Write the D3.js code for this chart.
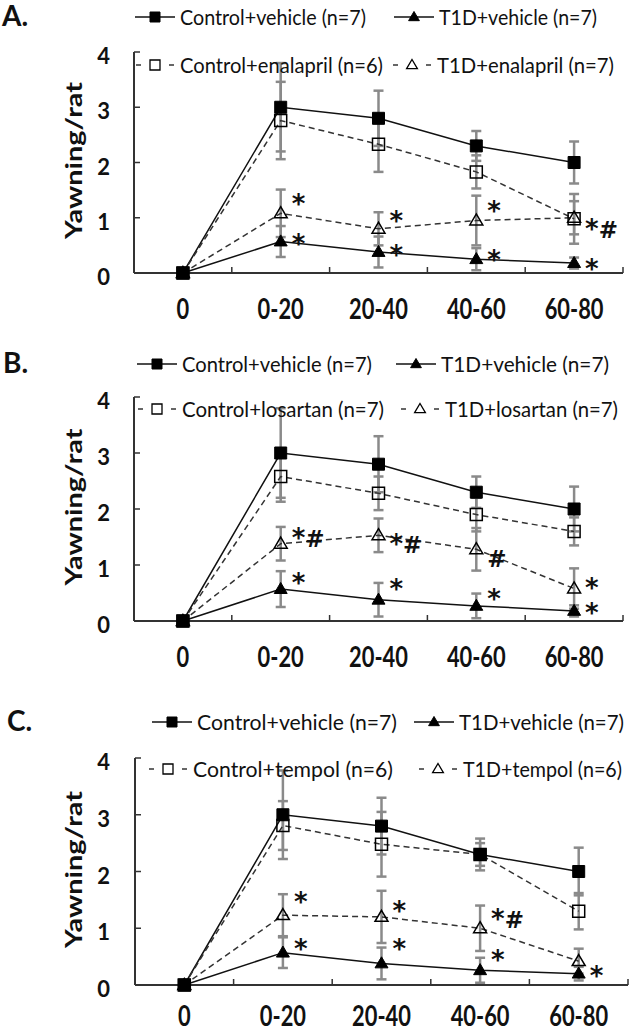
<!DOCTYPE html>
<html>
<head>
<meta charset="utf-8">
<script src="https://cdn.jsdelivr.net/npm/d3@7"></script>
<style>
  html, body { margin: 0; padding: 0; background: #fff; }
  svg { display: block; }
  text { font-family: Lato, "Open Sans", sans-serif; fill: #111; }
</style>
</head>
<body>
<svg id="chart" width="631" height="1031"></svg>
<script>
// ---------------- DATA ----------------
const categories = ["0", "0-20", "20-40", "40-60", "60-80"];
const yTicks = [0, 1, 2, 3, 4];

// Panel A (enalapril)
const A_controlVehicle    = [0, 3.0, 2.8, 2.3, 2.0];
const A_controlVehicleErr = [0, 0.8, 0.5, 0.27, 0.38];
const A_t1dVehicle        = [0, 0.57, 0.38, 0.25, 0.18];
const A_t1dVehicleErr     = [0, 0.28, 0.28, 0.2, 0.1];
const A_controlDrug       = [0, 2.76, 2.33, 1.83, 0.98];
const A_controlDrugErr    = [0, 0.7, 0.5, 0.3, 0.45];
const A_t1dDrug           = [0, 1.08, 0.8, 0.95, 1.0];
const A_t1dDrugErr        = [0, 0.43, 0.3, 0.45, 0.3];
const A_legend = ["Control+vehicle (n=7)", "T1D+vehicle (n=7)", "Control+enalapril (n=6)", "T1D+enalapril (n=7)"];
const A_sig = [[1, 1.38, "*"], [1, 0.66, "*"], [2, 1.07, "*"], [2, 0.45, "*"], [3, 1.25, "*"], [3, 0.36, "*"], [4, 0.93, "*#"], [4, 0.2, "*"]];

// Panel B (losartan)
const B_controlVehicle    = [0, 3.0, 2.8, 2.3, 2.0];
const B_controlVehicleErr = [0, 0.8, 0.5, 0.28, 0.4];
const B_t1dVehicle        = [0, 0.57, 0.38, 0.27, 0.18];
const B_t1dVehicleErr     = [0, 0.32, 0.3, 0.22, 0.1];
const B_controlDrug       = [0, 2.58, 2.28, 1.9, 1.6];
const B_controlDrugErr    = [0, 0.45, 0.3, 0.3, 0.25];
const B_t1dDrug           = [0, 1.38, 1.53, 1.28, 0.58];
const B_t1dDrugErr        = [0, 0.3, 0.3, 0.38, 0.36];
const B_legend = ["Control+vehicle (n=7)", "T1D+vehicle (n=7)", "Control+losartan (n=7)", "T1D+losartan (n=7)"];
const B_sig = [[1, 1.6, "*#"], [1, 0.8, "*"], [2, 1.5, "*#"], [2, 0.7, "*"], [3, 1.25, "#"], [3, 0.51, "*"], [4, 0.72, "*"], [4, 0.27, "*"]];

// Panel C (tempol)
const C_controlVehicle    = [0, 3.0, 2.8, 2.3, 2.0];
const C_controlVehicleErr = [0, 0.78, 0.5, 0.28, 0.42];
const C_t1dVehicle        = [0, 0.57, 0.38, 0.26, 0.2];
const C_t1dVehicleErr     = [0, 0.27, 0.28, 0.22, 0.12];
const C_controlDrug       = [0, 2.81, 2.48, 2.3, 1.3];
const C_controlDrugErr    = [0, 0.43, 0.57, 0.2, 0.32];
const C_t1dDrug           = [0, 1.23, 1.2, 1.0, 0.42];
const C_t1dDrugErr        = [0, 0.37, 0.46, 0.4, 0.22];
const C_legend = ["Control+vehicle (n=7)", "T1D+vehicle (n=7)", "Control+tempol (n=6)", "T1D+tempol (n=6)"];
const C_sig = [[1, 1.59, "*"], [1, 0.75, "*"], [2, 1.43, "*"], [2, 0.75, "*"], [3, 1.29, "*#"], [3, 0.56, "*"], [4, 0.29, "*"]];

const yTitle = "Yawning/rat";

// ---------------- LAYOUT ----------------
const panels = [
  { title: "A.", titleX: 2, top: 52, bottom: 273, x0: 134, x1: 623,
    row1: 17, row2: 65, items: [155, 414, 155, 412], widths: [186, 158, 203, 177],
    cv: A_controlVehicle, cvE: A_controlVehicleErr, tv: A_t1dVehicle, tvE: A_t1dVehicleErr,
    cd: A_controlDrug, cdE: A_controlDrugErr, td: A_t1dDrug, tdE: A_t1dDrugErr,
    legend: A_legend, sig: A_sig },
  { title: "B.", titleX: 3, top: 397, bottom: 621, x0: 134, x1: 623,
    row1: 364, row2: 409, items: [157, 416, 157, 420], widths: [190, 168, 202, 173],
    cv: B_controlVehicle, cvE: B_controlVehicleErr, tv: B_t1dVehicle, tvE: B_t1dVehicleErr,
    cd: B_controlDrug, cdE: B_controlDrugErr, td: B_t1dDrug, tdE: B_t1dDrugErr,
    legend: B_legend, sig: B_sig },
  { title: "C.", titleX: 7, top: 758, bottom: 985, x0: 135, x1: 628,
    row1: 722, row2: 769, items: [172, 434, 168, 438], widths: [200, 165, 200, 159],
    cv: C_controlVehicle, cvE: C_controlVehicleErr, tv: C_t1dVehicle, tvE: C_t1dVehicleErr,
    cd: C_controlDrug, cdE: C_controlDrugErr, td: C_t1dDrug, tdE: C_t1dDrugErr,
    legend: C_legend, sig: C_sig }
];

const svg = d3.select("#chart");
const ERR_COLOR = "#8a8a8a";
const AX_COLOR = "#333";

function markerPath(type, x, y, s) {
  if (type === "square") {
    const h = s / 2;
    return `M${x - h},${y - h}H${x + h}V${y + h}H${x - h}Z`;
  } else {
    const w = s * 1.08, hgt = s * 0.92;
    return `M${x},${y - hgt * 0.6}L${x + w / 2},${y + hgt * 0.4}L${x - w / 2},${y + hgt * 0.4}Z`;
  }
}

function squash(sel, f) {
  sel.each(function () {
    const L = this.getComputedTextLength();
    d3.select(this).attr("textLength", L * f).attr("lengthAdjust", "spacingAndGlyphs");
  });
}

panels.forEach(p => {
  const g = svg.append("g");
  const x = d3.scaleBand().domain(categories).range([p.x0, p.x1]).padding(0);
  const y = d3.scaleLinear().domain([0, 4]).range([p.bottom, p.top]);
  const cx = c => x(c) + x.bandwidth() / 2;

  const series = [
    { vals: p.cv, err: p.cvE, type: "square", filled: true, dashed: false },
    { vals: p.tv, err: p.tvE, type: "triangle", filled: true, dashed: false },
    { vals: p.cd, err: p.cdE, type: "square", filled: false, dashed: true },
    { vals: p.td, err: p.tdE, type: "triangle", filled: false, dashed: true }
  ];

  // axes
  const ax = g.append("g");
  ax.append("line").attr("x1", p.x0).attr("x2", p.x0).attr("y1", y(0)).attr("y2", y(4))
    .attr("stroke", AX_COLOR).attr("stroke-width", 2);
  ax.append("line").attr("x1", p.x0).attr("x2", p.x1).attr("y1", y(0)).attr("y2", y(0))
    .attr("stroke", AX_COLOR).attr("stroke-width", 2);
  yTicks.forEach(t => {
    ax.append("line").attr("x1", p.x0).attr("x2", p.x0 + 6).attr("y1", y(t)).attr("y2", y(t))
      .attr("stroke", AX_COLOR).attr("stroke-width", 1.5);
    ax.append("text").attr("x", 110).attr("y", y(t) + 12).attr("text-anchor", "end")
      .attr("font-size", 22).attr("font-weight", 700).text(t);
  });
  categories.forEach((c, i) => {
    if (i > 0) {
      const bx = x(c);
      ax.append("line").attr("x1", bx).attr("x2", bx).attr("y1", y(0)).attr("y2", y(0) - 6)
        .attr("stroke", AX_COLOR).attr("stroke-width", 1.5);
    }
    ax.append("text").attr("x", cx(c)).attr("y", Math.min(y(0) + 46, 1026))
      .attr("text-anchor", "middle")
      .attr("font-size", 28).attr("font-weight", 700).text(c).call(squash, 0.78);
  });
  ax.append("line").attr("x1", p.x1).attr("x2", p.x1).attr("y1", y(0)).attr("y2", y(0) - 6)
    .attr("stroke", AX_COLOR).attr("stroke-width", 1.5);

  // y title
  g.append("text")
    .attr("transform", `translate(82,${(p.top + p.bottom) / 2 - 2}) rotate(-90)`)
    .attr("text-anchor", "middle").attr("font-size", 23).attr("font-weight", 700)
    .attr("textLength", 157).attr("lengthAdjust", "spacingAndGlyphs")
    .text(yTitle);

  // panel title
  g.append("text").attr("x", p.titleX).attr("y", p.row1 + 9)
    .attr("font-size", 28).attr("font-weight", 700).text(p.title);

  // error bars
  const eg = g.append("g");
  series.forEach(s => {
    s.vals.forEach((v, i) => {
      const e = s.err[i];
      if (!e) return;
      const px = cx(categories[i]);
      eg.append("line").attr("x1", px).attr("x2", px).attr("y1", y(v - e)).attr("y2", y(v + e))
        .attr("stroke", ERR_COLOR).attr("stroke-width", 2.5);
      [v - e, v + e].forEach(w => {
        eg.append("line").attr("x1", px - 5).attr("x2", px + 5).attr("y1", y(w)).attr("y2", y(w))
          .attr("stroke", ERR_COLOR).attr("stroke-width", 2.5);
      });
    });
  });

  // lines
  const line = d3.line().x((d, i) => cx(categories[i])).y(d => y(d));
  series.forEach(s => {
    g.append("path").attr("d", line(s.vals)).attr("fill", "none")
      .attr("stroke", s.dashed ? "#333" : "#111").attr("stroke-width", 1.5)
      .attr("stroke-dasharray", s.dashed ? "6,4" : null);
  });

  // markers (draw open first, filled last)
  [series[2], series[3], series[1], series[0]].forEach(s => {
    s.vals.forEach((v, i) => {
      g.append("path").attr("d", markerPath(s.type, cx(categories[i]), y(v), 12))
        .attr("fill", s.filled ? "#000" : "none")
        .attr("stroke", "#000").attr("stroke-width", s.filled ? 1 : 1.5);
    });
  });

  // significance marks
  p.sig.forEach(([ci, v, txt]) => {
    const t = g.append("text").attr("x", cx(categories[ci]) + 11).attr("y", y(v) + 16)
      .style("font-family", "'DejaVu Sans', sans-serif").attr("font-weight", 700);
    txt.split("").forEach(ch => {
      t.append("tspan").attr("font-size", ch === "*" ? 26 : 23).text(ch);
    });
  });

  // legend
  const lg = g.append("g");
  series.forEach((s, k) => {
    const mx = p.items[k];
    const ry = k < 2 ? p.row1 : p.row2;
    if (s.dashed) {
      [[mx - 19, mx - 14], [mx + 14, mx + 19]].forEach(([a, b]) => {
        lg.append("line").attr("x1", a).attr("x2", b).attr("y1", ry).attr("y2", ry)
          .attr("stroke", "#333").attr("stroke-width", 1.5);
      });
    } else {
      lg.append("line").attr("x1", mx - 20).attr("x2", mx + 20).attr("y1", ry).attr("y2", ry)
        .attr("stroke", "#111").attr("stroke-width", 1.5);
    }
    lg.append("path").attr("d", markerPath(s.type, mx, ry, 10))
      .attr("fill", s.filled ? "#000" : "none").attr("stroke", "#000")
      .attr("stroke-width", s.filled ? 1 : 1.3);
    lg.append("text").attr("x", mx + 25).attr("y", ry + 7.5).attr("font-size", 20.5)
      .attr("textLength", p.widths[k]).attr("lengthAdjust", "spacingAndGlyphs")
      .text(p.legend[k]);
  });
});
</script>
</body>
</html>
